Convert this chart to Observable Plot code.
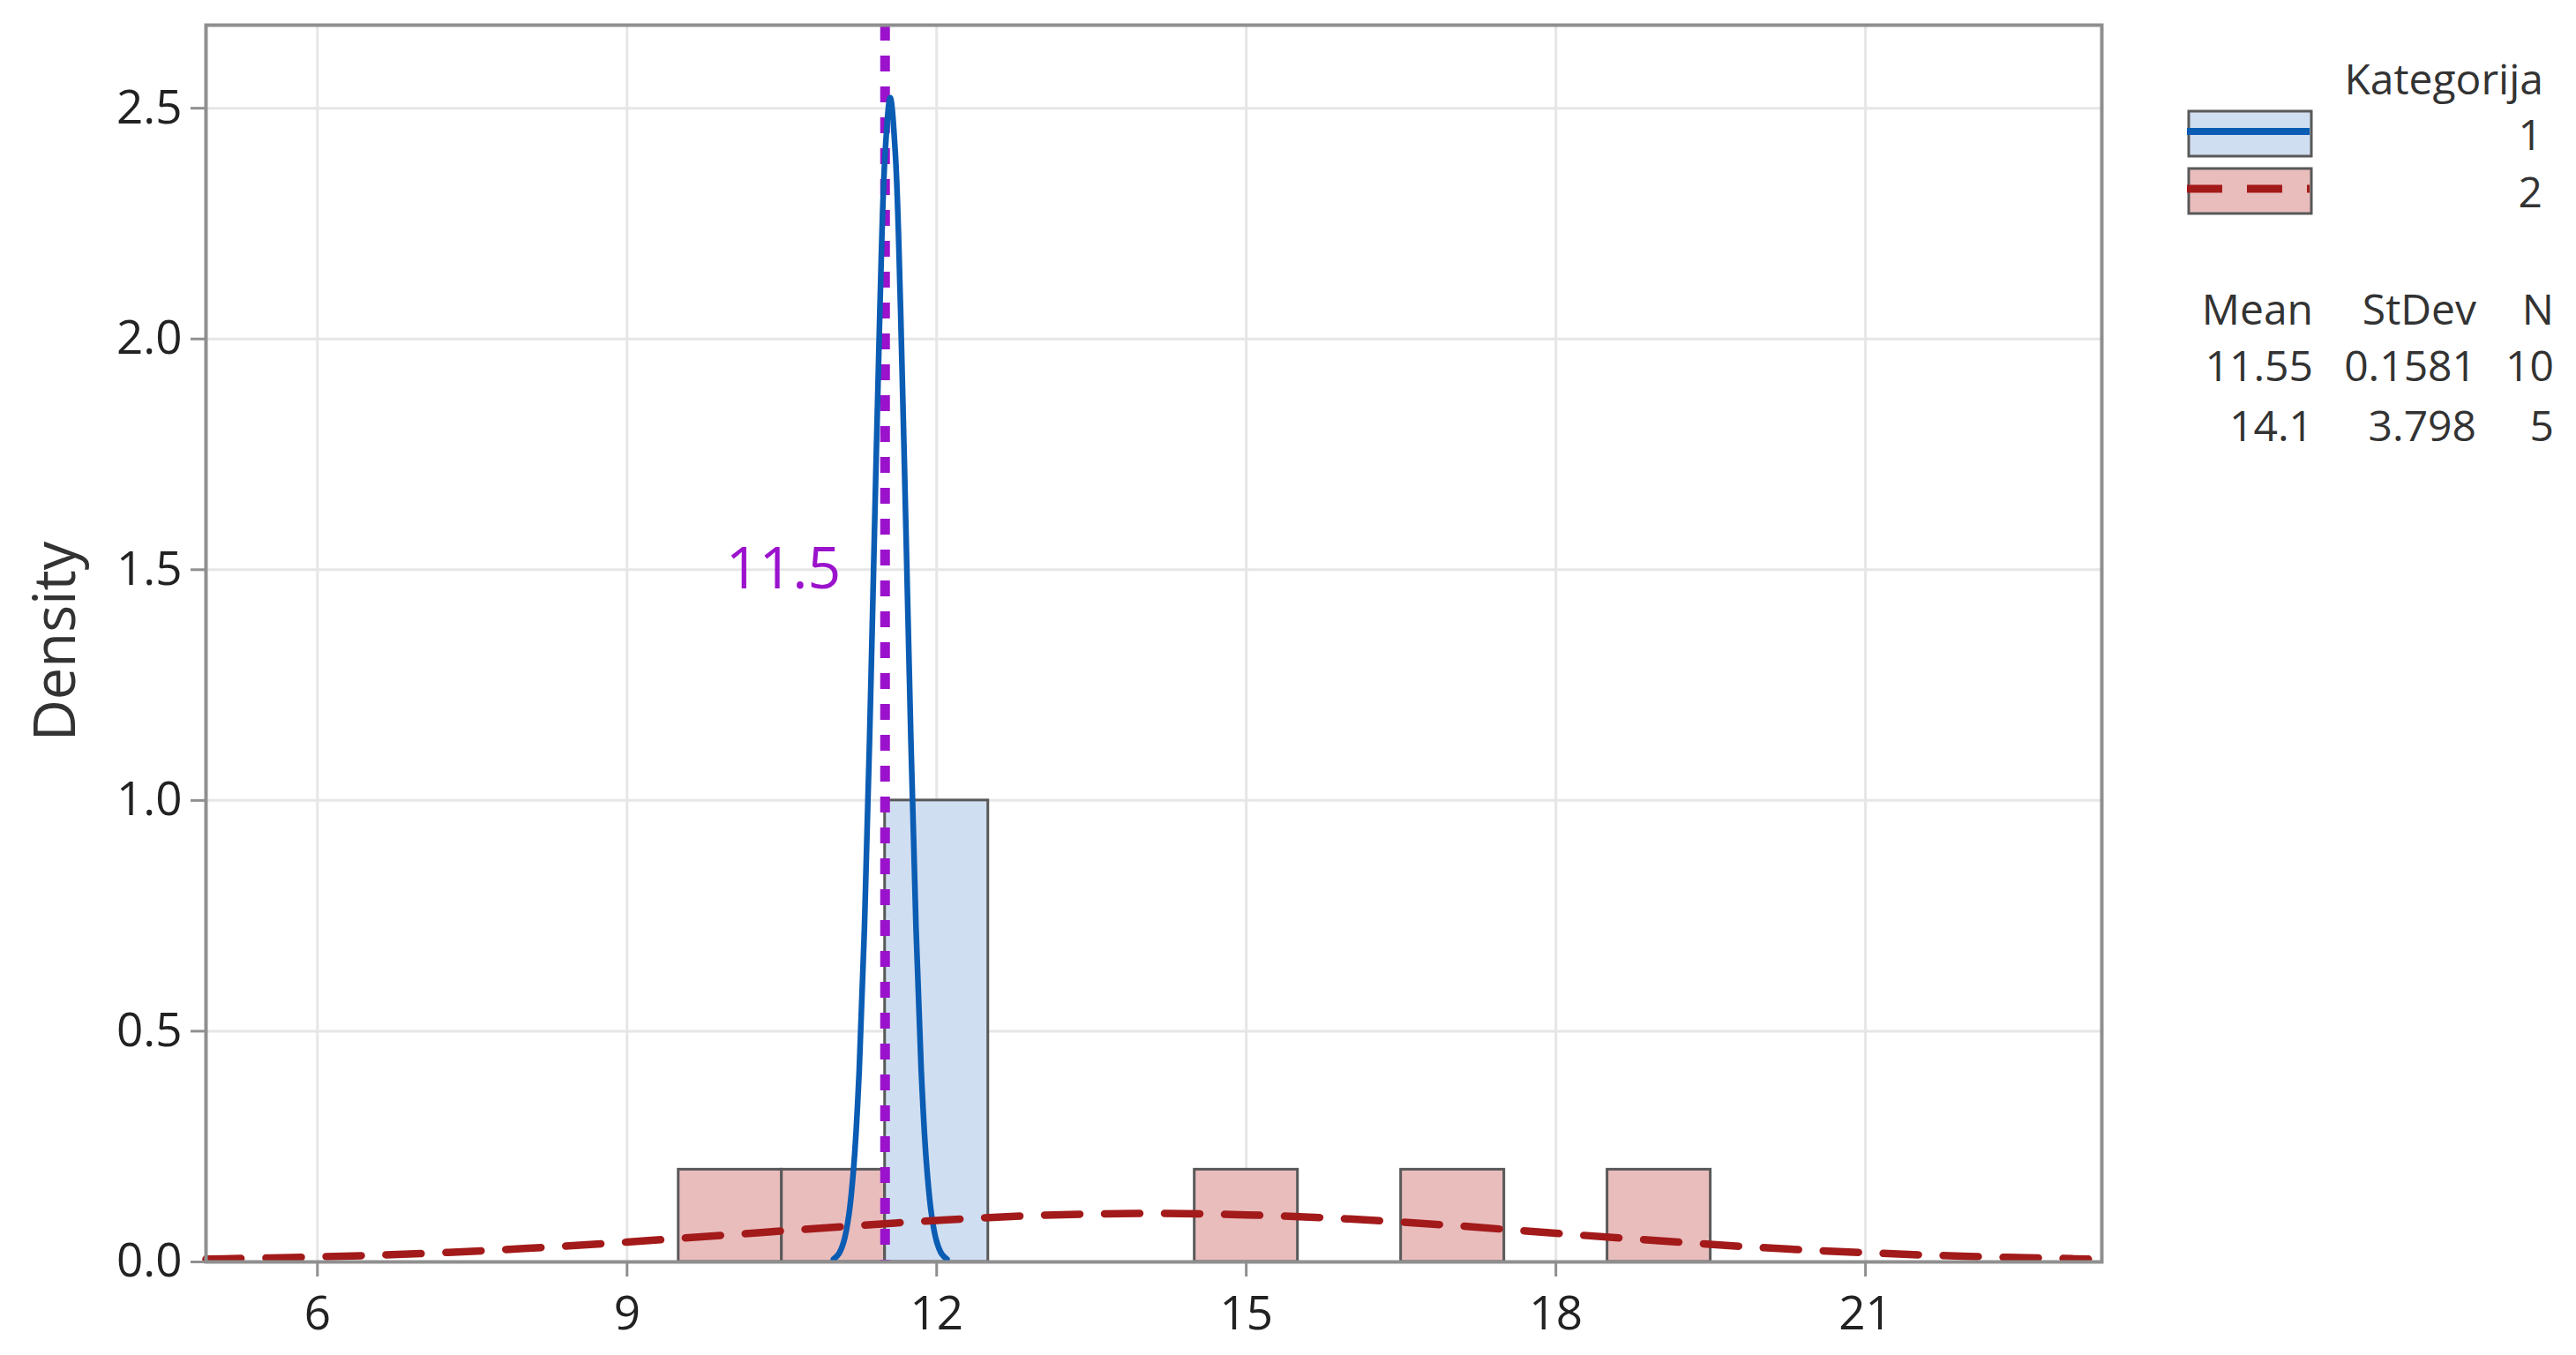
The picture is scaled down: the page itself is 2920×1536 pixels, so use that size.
<!DOCTYPE html>
<html>
<head>
<meta charset="utf-8">
<script src="https://cdn.jsdelivr.net/npm/d3@7"></script>
<script src="https://cdn.jsdelivr.net/npm/@observablehq/plot@0.6"></script>
<style>
  html, body { margin: 0; padding: 0; background: #ffffff; }
  #wrap { position: relative; width: 2920px; height: 1536px; overflow: hidden; }
  #legend { position: absolute; left: 0; top: 0; pointer-events: none; }
</style>
</head>
<body>
<div id="wrap"></div>
<script>
// ---- Data ----
const categories = ["1", "2"];
const meanLabels = ["11.55", "14.1"];
const stdevLabels = ["0.1581", "3.798"];
const nLabels = ["10", "5"];
const statHeaders = ["Mean", "StDev", "N"];
const legendTitle = "Kategorija";

const xTicks = [6, 9, 12, 15, 18, 21];
const yTicks = [0, 0.5, 1.0, 1.5, 2.0, 2.5];

// histogram bins (density scale)
const cat1BinStart = [11.5];
const cat1BinEnd = [12.5];
const cat1Density = [1.0];
const cat2BinStart = [9.5, 10.5, 14.5, 16.5, 18.5];
const cat2BinEnd = [10.5, 11.5, 15.5, 17.5, 19.5];
const cat2Density = [0.2, 0.2, 0.2, 0.2, 0.2];

// fitted density curves
const curve1X = [11.00, 11.05, 11.10, 11.15, 11.20, 11.25, 11.30, 11.35, 11.40, 11.45, 11.50, 11.55,
                 11.60, 11.65, 11.70, 11.75, 11.80, 11.85, 11.90, 11.95, 12.00, 12.05, 12.10];
const curve1Y = [0.006, 0.017, 0.044, 0.103, 0.217, 0.417, 0.723, 1.134, 1.609, 2.066, 2.400, 2.523,
                 2.400, 2.066, 1.609, 1.134, 0.723, 0.417, 0.217, 0.103, 0.044, 0.017, 0.006];
const curve2X = [4.92, 6, 7, 8, 9, 10, 11, 12, 13, 14, 15, 16, 17, 18, 19, 20, 21, 22, 23, 23.16];
const curve2Y = [0.006, 0.011, 0.018, 0.029, 0.043, 0.059, 0.075, 0.090, 0.101, 0.105, 0.102,
                 0.093, 0.079, 0.062, 0.046, 0.031, 0.020, 0.012, 0.007, 0.006];

// reference line
const refValues = [11.5];
const refLabels = ["11.5"];
const refLabelY = [1.5];

const yLabel = "Density";

// ---- Build tables ----
const bins1 = cat1BinStart.map((s, i) => ({x1: s, x2: cat1BinEnd[i], y: cat1Density[i]}));
const bins2 = cat2BinStart.map((s, i) => ({x1: s, x2: cat2BinEnd[i], y: cat2Density[i]}));
const pts1 = curve1X.map((x, i) => ({x, y: curve1Y[i]}));
const pts2 = curve2X.map((x, i) => ({x, y: curve2Y[i]}));
const refs = refValues.map((v, i) => ({v, label: refLabels[i], ly: refLabelY[i]}));

const FONT = "'Open Sans', 'Noto Sans', sans-serif";
const BLUE = "#0b5cb3";
const RED = "#a31a1a";
const PURPLE = "#9b12cc";
const BLUEFILL = "#d0def1";
const PINKFILL = "#eabdbd";
const BARSTROKE = "#595959";
const AXISGRAY = "#8f8f8f";
const GRID = "#e6e6e6";

const chart = Plot.plot({
  width: 2920,
  height: 1536,
  marginLeft: 233,
  marginTop: 28,
  marginRight: 538,
  marginBottom: 106,
  style: {fontFamily: FONT, color: "#222", background: "#ffffff", overflow: "visible"},
  x: {domain: [4.92, 23.29]},
  y: {domain: [0, 2.68]},
  marks: [
    Plot.gridX(xTicks, {stroke: GRID, strokeWidth: 3, strokeOpacity: 1}),
    Plot.gridY(yTicks.filter(d => d > 0), {stroke: GRID, strokeWidth: 3, strokeOpacity: 1}),
    Plot.rectY(bins2, {x1: "x1", x2: "x2", y: "y", fill: PINKFILL, stroke: BARSTROKE, strokeWidth: 3}),
    Plot.rectY(bins1, {x1: "x1", x2: "x2", y: "y", fill: BLUEFILL, stroke: BARSTROKE, strokeWidth: 3}),
    Plot.ruleX(refs, {x: "v", stroke: PURPLE, strokeWidth: 11, strokeDasharray: "18,17"}),
    Plot.line(pts1, {x: "x", y: "y", stroke: BLUE, strokeWidth: 6.5, curve: "catmull-rom"}),
    Plot.line(pts2, {x: "x", y: "y", stroke: RED, strokeWidth: 8.5, strokeDasharray: "40,28", curve: "catmull-rom"}),
    Plot.text(refs, {x: "v", y: "ly", text: "label", textAnchor: "end", dx: -50, fill: PURPLE, fontSize: 66}),
    Plot.frame({stroke: AXISGRAY, strokeWidth: 4}),
    Plot.axisX({ticks: xTicks, tickSize: 17, tickPadding: 22, fontSize: 53, stroke: AXISGRAY, strokeWidth: 3, label: null, fill: "#222"}),
    Plot.axisY({ticks: yTicks, tickSize: 17, tickPadding: 10, fontSize: 53, stroke: AXISGRAY, strokeWidth: 3, label: null, tickFormat: d3.format(".1f"), fill: "#222"})
  ]
});

const wrap = document.getElementById("wrap");
wrap.appendChild(chart);

// ---- Overlay: y-axis title and legend ----
const svg = d3.select(wrap).append("svg")
  .attr("id", "legend")
  .attr("width", 2920).attr("height", 1536)
  .style("font-family", FONT);

const tcol = "#333";

svg.append("text")
  .attr("transform", "translate(85,727) rotate(-90)")
  .attr("text-anchor", "middle")
  .attr("font-size", 65).attr("fill", tcol).text(yLabel);

svg.append("text").attr("x", 2883).attr("y", 107).attr("text-anchor", "end")
  .attr("font-size", 48).attr("fill", tcol).text(legendTitle);

const swatches = [
  {fill: BLUEFILL, stroke: BLUE, dash: null, w: 8},
  {fill: PINKFILL, stroke: RED, dash: "40,28", w: 9}
];
categories.forEach((c, i) => {
  const top = 126 + i * 65;
  svg.append("rect").attr("x", 2481).attr("y", top).attr("width", 139).attr("height", 51)
    .attr("fill", swatches[i].fill).attr("stroke", BARSTROKE).attr("stroke-width", 3);
  const ln = svg.append("line").attr("x1", 2479).attr("x2", 2618)
    .attr("y1", top + 23).attr("y2", top + 23)
    .attr("stroke", swatches[i].stroke).attr("stroke-width", swatches[i].w);
  if (swatches[i].dash) ln.attr("stroke-dasharray", swatches[i].dash);
  svg.append("text").attr("x", 2882).attr("y", top + 44).attr("text-anchor", "end")
    .attr("font-size", 48).attr("fill", tcol).text(c);
});

const colX = [2622, 2807, 2895];
statHeaders.forEach((h, j) => {
  svg.append("text").attr("x", colX[j]).attr("y", 368).attr("text-anchor", "end")
    .attr("font-size", 48).attr("fill", tcol).text(h);
});
categories.forEach((c, i) => {
  const row = [meanLabels[i], stdevLabels[i], nLabels[i]];
  row.forEach((v, j) => {
    svg.append("text").attr("x", colX[j]).attr("y", 432 + i * 68).attr("text-anchor", "end")
      .attr("font-size", 48).attr("fill", tcol).text(v);
  });
});
</script>
</body>
</html>
